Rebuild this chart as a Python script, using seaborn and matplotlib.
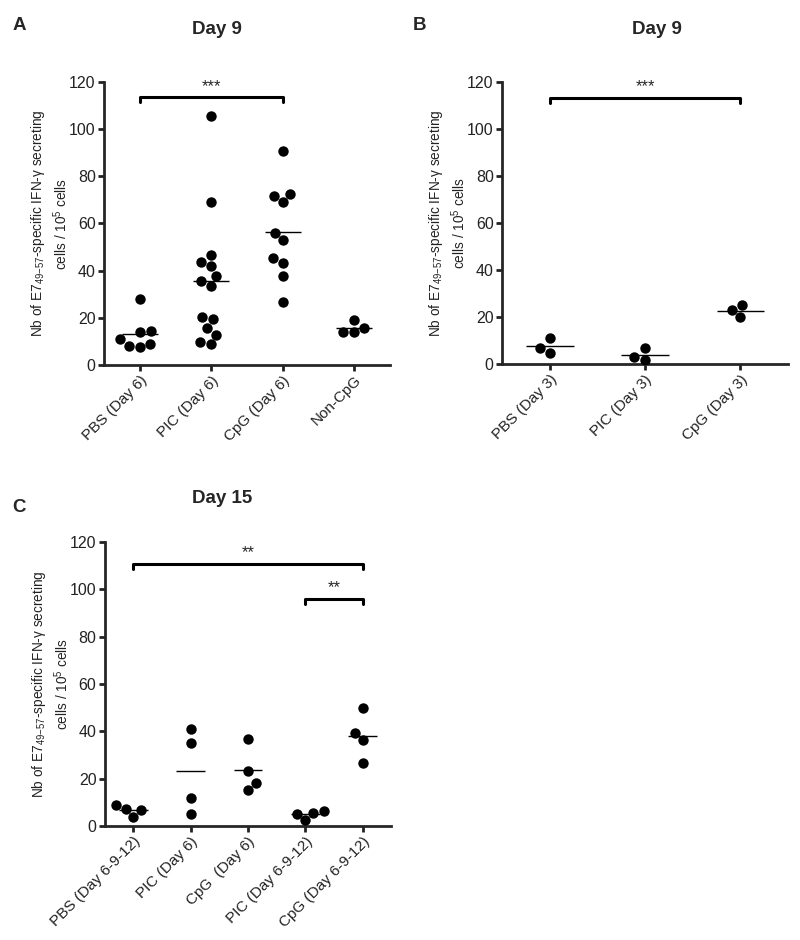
import pandas as pd
import matplotlib
matplotlib.use("Agg")
import matplotlib.pyplot as plt
import seaborn as sns

# panel A - Day 9
a_groups = ["PBS (Day 6)", "PIC (Day 6)", "CpG (Day 6)", "Non-CpG"]
a_pbs = [27.8, 14.4, 13.8, 11.0, 8.8, 7.8, 8.2]
a_pic = [105.7, 69.2, 46.7, 43.8, 42.1, 37.7, 35.6, 33.7, 20.3, 19.3, 15.5, 12.8, 9.6, 8.8]
a_cpg = [90.8, 72.3, 71.7, 69.0, 55.8, 52.8, 45.2, 43.2, 37.7, 26.7]
a_noncpg = [15.8, 13.8, 14.1, 19.1]

# panel B - Day 9
b_groups = ["PBS (Day 3)", "PIC (Day 3)", "CpG (Day 3)"]
b_pbs = [10.9, 6.8, 4.7]
b_pic = [6.8, 1.6, 2.8]
b_cpg = [24.9, 19.8, 22.8]

# panel C - Day 15
c_groups = ["PBS (Day 6-9-12)", "PIC (Day 6)", "CpG  (Day 6)", "PIC (Day 6-9-12)", "CpG (Day 6-9-12)"]
c_pbs = [7.1, 3.8, 6.9, 9.0]
c_pic6 = [40.8, 34.9, 11.9, 4.9]
c_cpg6 = [36.8, 23.4, 15.4, 18.2]
c_pic_rep = [5.6, 2.4, 5.2, 6.4]
c_cpg_rep = [49.7, 39.4, 36.3, 26.8]

sns.set_style("ticks")
plt.rcParams["font.family"] = ["Liberation Sans", "DejaVu Sans"]
plt.rcParams["mathtext.fontset"] = "custom"
plt.rcParams["mathtext.rm"] = "Liberation Sans"
plt.rcParams["mathtext.it"] = "Liberation Sans"

ylab = "Nb of E7$_{49\\mathrm{-}57}$-specific IFN-\u03b3 secreting\ncells / 10$^{5}$ cells"


def long_form(groups, series):
    rows = []
    for g, vals in zip(groups, series):
        for v in vals:
            rows.append({"group": g, "value": v})
    return pd.DataFrame(rows)


def bracket(ax, x1, x2, y, label):
    ax.plot([x1, x1, x2, x2], [y - 2, y, y, y - 2], color="black", lw=2.2, clip_on=False)
    ax.text((x1 + x2) / 2, y + 1.5, label, ha="center", va="bottom", fontsize=12)


def panel(ax, groups, series, ncat):
    df = long_form(groups, series)
    sns.swarmplot(data=df, x="group", y="value", order=groups, color="black",
                  size=7.5, ax=ax)
    means = df.groupby("group")["value"].mean().reindex(groups)
    xs = range(len(groups))
    ax.hlines(means.values, [x - 0.25 for x in xs], [x + 0.25 for x in xs],
              color="black", lw=1)
    ax.set_xlim(-0.5, ncat - 0.5)
    ax.set_ylim(0, 120)
    ax.set_yticks(range(0, 121, 20))
    ax.set_xlabel("")
    ax.set_ylabel(ylab, fontsize=9.8, color="#222222", linespacing=1.3)
    ax.yaxis.set_label_coords(-0.118, 0.5)
    sns.despine(ax=ax)
    for s in ["left", "bottom"]:
        ax.spines[s].set_linewidth(2)
    ax.tick_params(width=2, length=4, pad=2, labelsize=11.5, colors="#222222")
    ax.tick_params(axis="x", labelsize=11)
    plt.setp(ax.get_xticklabels(), rotation=45, ha="right", rotation_mode="anchor")


fig = plt.figure(figsize=(8, 9.4), dpi=100)
axA = fig.add_axes([0.13, 0.6117, 0.3575, 0.3011])
axB = fig.add_axes([0.6275, 0.6128, 0.3575, 0.3000])
axC = fig.add_axes([0.131, 0.1213, 0.358, 0.3021])

panel(axA, a_groups, [a_pbs, a_pic, a_cpg, a_noncpg], 4)
bracket(axA, 0, 2, 113.5, "***")

panel(axB, b_groups, [b_pbs, b_pic, b_cpg], 3)
bracket(axB, 0, 2, 113.2, "***")

panel(axC, c_groups, [c_pbs, c_pic6, c_cpg6, c_pic_rep, c_cpg_rep], 5)
bracket(axC, 0, 4, 110.8, "**")
bracket(axC, 3, 4, 95.9, "**")

bold = dict(fontsize=13.5, fontweight="bold")
fig.text(217 / 800, 1 - 30 / 940, "Day 9", ha="center", va="center", **bold)
fig.text(657 / 800, 1 - 30 / 940, "Day 9", ha="center", va="center", **bold)
fig.text(222 / 800, 1 - 498 / 940, "Day 15", ha="center", va="center", **bold)
fig.text(19 / 800, 1 - 25 / 940, "A", ha="center", va="center", **bold)
fig.text(419 / 800, 1 - 25 / 940, "B", ha="center", va="center", **bold)
fig.text(19 / 800, 1 - 507 / 940, "C", ha="center", va="center", **bold)

fig.savefig("out.png", dpi=100)
